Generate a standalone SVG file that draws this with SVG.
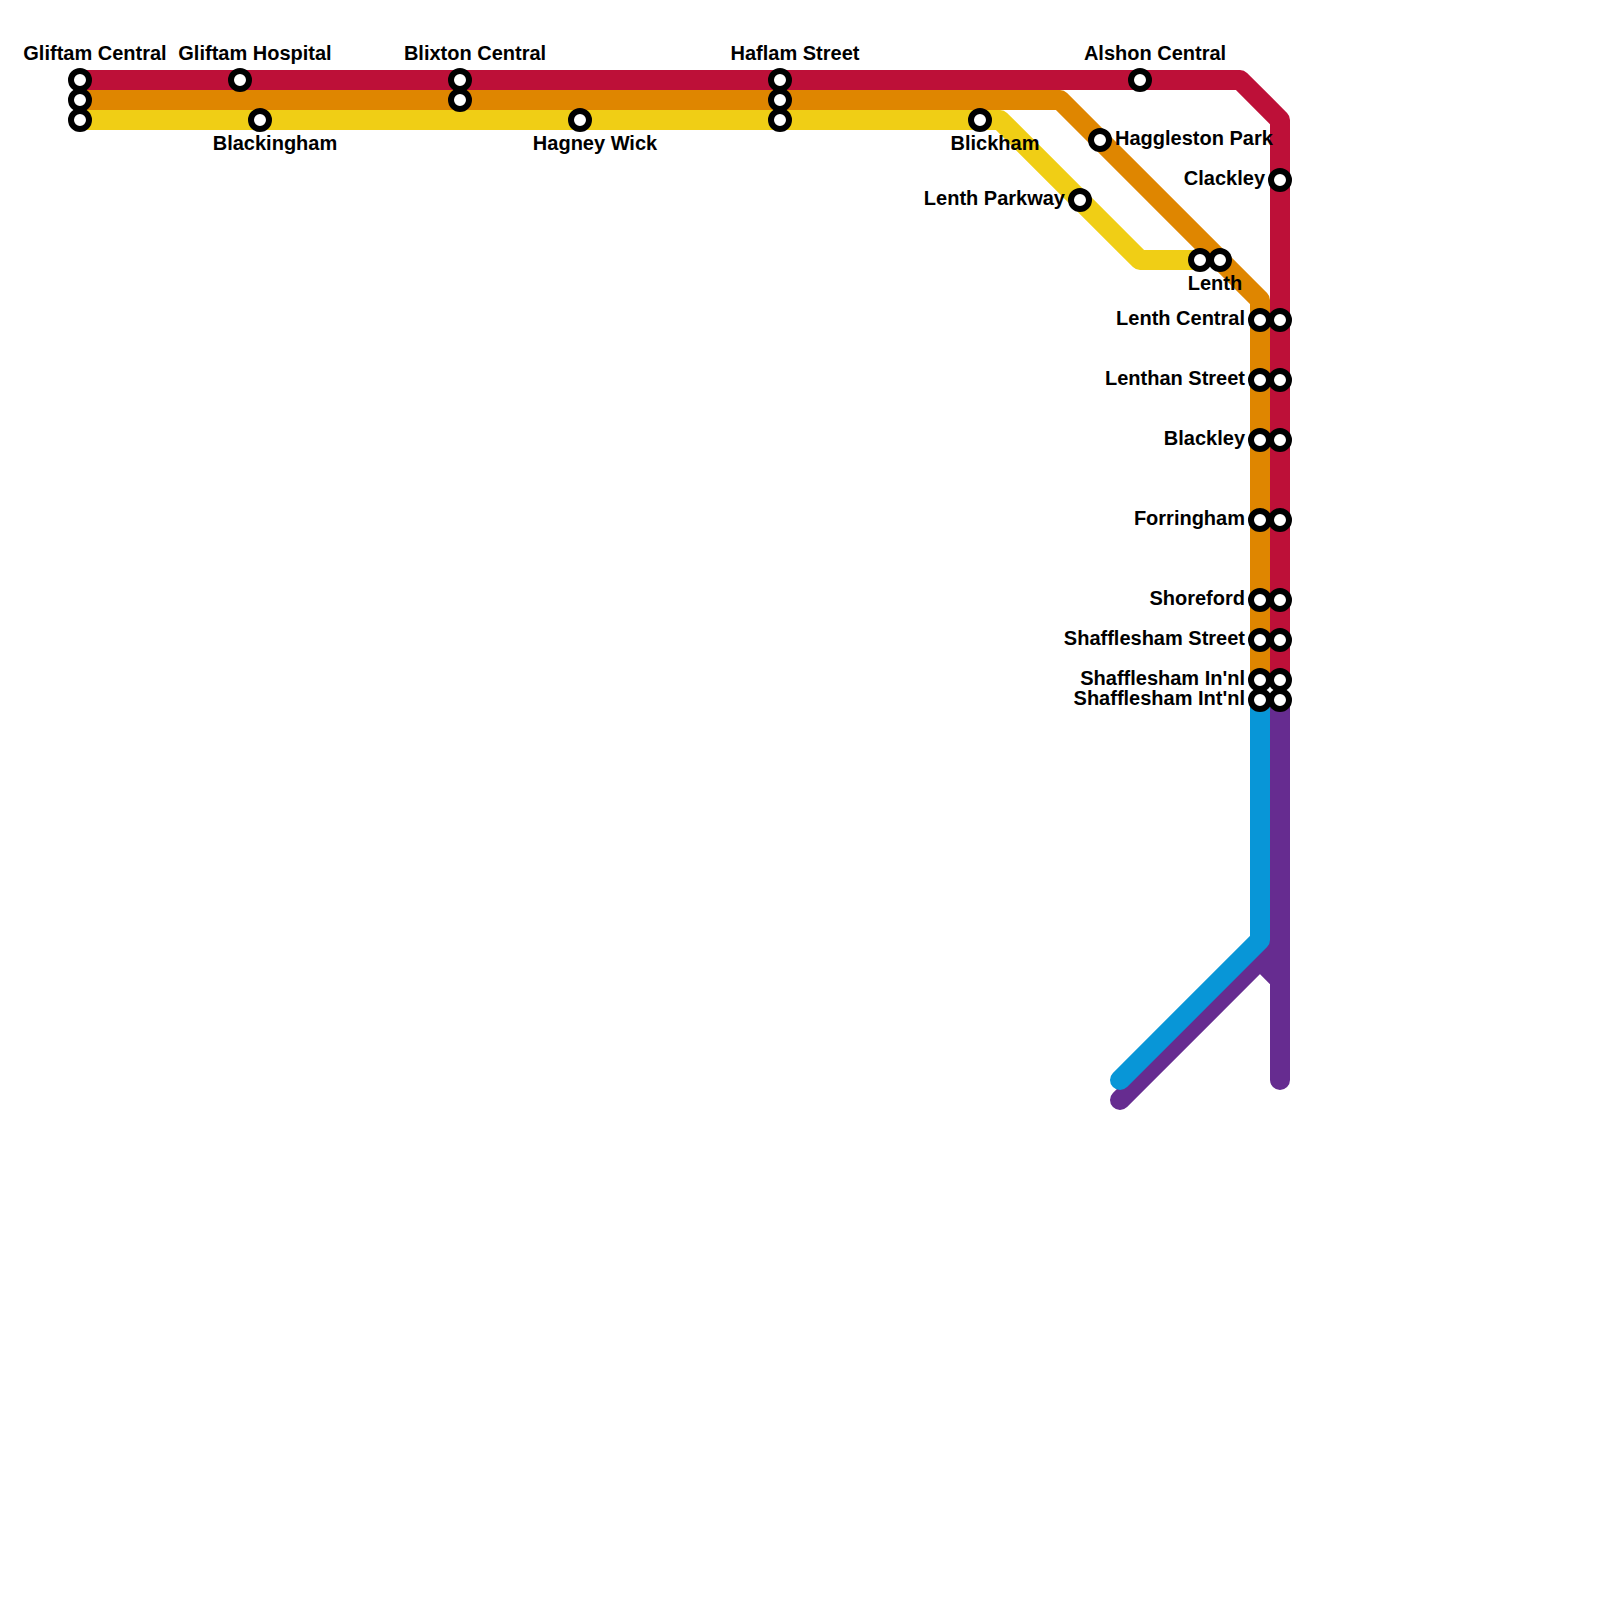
<svg xmlns="http://www.w3.org/2000/svg" width="1600" height="1600" viewBox="0 0 1600 1600">
<style>
.l{fill:none;stroke-width:20;stroke-linecap:round;stroke-linejoin:round}
.s{fill:#fff;stroke:#000;stroke-width:6}
text{font-family:"Liberation Sans",Arial,sans-serif;font-size:20px;font-weight:700;fill:#000}
.m{text-anchor:middle}.e{text-anchor:end}
</style>
<rect width="1600" height="1600" fill="#fff"/>
<g id="connectors">
<path class="l" stroke="#662c90" d="M1280 700V1080M1120 1100L1260 960L1280 980M1280 920L1260 960"/>
<path class="l" stroke="#0896d7" d="M1260 700V940L1120 1080"/>
<path class="l" stroke="#f0ce15" d="M80 120H1000L1140 260H1200"/>
<path class="l" stroke="#df8600" d="M80 100H1060L1260 300V680"/>
<path class="l" stroke="#bd1038" d="M80 80H1240L1280 120V680"/>
</g>
<defs><circle id="c" class="s" r="9"/></defs>
<g id="gliftam-central"><use href="#c" x="80" y="80"/><use href="#c" x="80" y="100"/><use href="#c" x="80" y="120"/><text class="m" x="95" y="60">Gliftam Central</text></g>
<g id="gliftam-hospital"><use href="#c" x="240" y="80"/><text class="m" x="255" y="60">Gliftam Hospital</text></g>
<g id="blackingham"><use href="#c" x="260" y="120"/><text class="m" x="275" y="150">Blackingham</text></g>
<g id="blixton-central"><use href="#c" x="460" y="80"/><use href="#c" x="460" y="100"/><text class="m" x="475" y="60">Blixton Central</text></g>
<g id="hagney-wick"><use href="#c" x="580" y="120"/><text class="m" x="595" y="150">Hagney Wick</text></g>
<g id="haflam-street"><use href="#c" x="780" y="80"/><use href="#c" x="780" y="100"/><use href="#c" x="780" y="120"/><text class="m" x="795" y="60">Haflam Street</text></g>
<g id="blickham"><use href="#c" x="980" y="120"/><text class="m" x="995" y="150">Blickham</text></g>
<g id="alshon-central"><use href="#c" x="1140" y="80"/><text class="m" x="1155" y="60">Alshon Central</text></g>
<g id="haggleston-park"><use href="#c" x="1100" y="140"/><text x="1115" y="145">Haggleston Park</text></g>
<g id="lenth-parkway"><use href="#c" x="1080" y="200"/><text class="e" x="1065" y="205">Lenth Parkway</text></g>
<g id="lenth"><use href="#c" x="1200" y="260"/><use href="#c" x="1220" y="260"/><text class="m" x="1215" y="290">Lenth</text></g>
<g id="clackley"><use href="#c" x="1280" y="180"/><text class="e" x="1265" y="185">Clackley</text></g>
<g id="lenth-central"><use href="#c" x="1260" y="320"/><use href="#c" x="1280" y="320"/><text class="e" x="1245" y="325">Lenth Central</text></g>
<g id="lenthan-street"><use href="#c" x="1260" y="380"/><use href="#c" x="1280" y="380"/><text class="e" x="1245" y="385">Lenthan Street</text></g>
<g id="blackley"><use href="#c" x="1260" y="440"/><use href="#c" x="1280" y="440"/><text class="e" x="1245" y="445">Blackley</text></g>
<g id="forringham"><use href="#c" x="1260" y="520"/><use href="#c" x="1280" y="520"/><text class="e" x="1245" y="525">Forringham</text></g>
<g id="shoreford"><use href="#c" x="1260" y="600"/><use href="#c" x="1280" y="600"/><text class="e" x="1245" y="605">Shoreford</text></g>
<g id="shafflesham-street"><use href="#c" x="1260" y="640"/><use href="#c" x="1280" y="640"/><text class="e" x="1245" y="645">Shafflesham Street</text></g>
<g id="shafflesham-innl"><use href="#c" x="1260" y="680"/><use href="#c" x="1280" y="680"/><text class="e" x="1245" y="685">Shafflesham In'nl</text></g>
<g id="shafflesham-intnl"><use href="#c" x="1260" y="700"/><use href="#c" x="1280" y="700"/><text class="e" x="1245" y="705">Shafflesham Int'nl</text></g>
</svg>
